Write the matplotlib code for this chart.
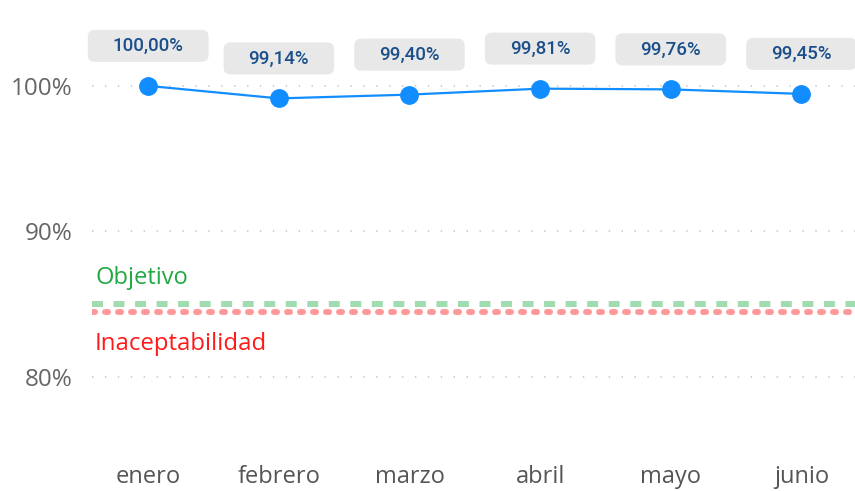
import matplotlib.pyplot as plt
from matplotlib.patches import FancyBboxPatch
from matplotlib.transforms import IdentityTransform
import numpy as np

months = ['enero', 'febrero', 'marzo', 'abril', 'mayo', 'junio']
values = [100.00, 99.14, 99.40, 99.81, 99.76, 99.45]
objetivo = 85.0
inaceptable = 84.5
y_ticks = [80, 90, 100]

plt.rcParams['lines.scale_dashes'] = False

fig = plt.figure(figsize=(8.55, 4.91), dpi=100)
ax = fig.add_axes([92 / 855, 41.2 / 491, (855 - 92) / 855, 449.8 / 491])

x = np.arange(len(months))
ax.set_xlim(-0.43, 5.41)
ax.set_ylim(75, 105.9)

# gridlines (dotted)
for t in y_ticks:
    ax.axhline(t, color='#c8c8c8', lw=1.2, ls=(0, (1.0, 8.3)), zorder=1)

# reference lines
ax.axhline(objetivo, color='#a0dcb0', lw=4.3, ls=(0, (7.9, 7.6)),
           dash_capstyle='butt', zorder=2)
ax.axhline(inaceptable, color='#ff9999', lw=4.3, ls=(0, (2.2, 7.16)),
           dash_capstyle='round', zorder=2)
ax.text(0.004, 86.8, 'Objetivo', transform=ax.get_yaxis_transform(),
        color='#22a843', fontsize=17, family='Open Sans', va='center', ha='left')
ax.text(0.004, 82.3, 'Inaceptabilidad', transform=ax.get_yaxis_transform(),
        color='#ff1a1a', fontsize=17.3, family='Open Sans', va='center', ha='left')

# series
ax.plot(x, values, color='#118dff', lw=1.6, marker='o', markersize=12.5, zorder=4)

labels = []
for xi, v in zip(x, values):
    label = '{:.2f}%'.format(v).replace('.', ',')
    t = ax.annotate(label, (xi, v), xytext=(0, 28.8), textcoords='offset points',
                    ha='center', va='center', fontsize=13.5, family='Roboto',
                    fontweight='medium', color='#1b4f8a', zorder=6)
    labels.append(t)

ax.set_xticks(x)
ax.set_xticklabels(months, fontsize=17, color='#555555', family='Open Sans')
ax.set_yticks(y_ticks)
ax.set_yticklabels(['{}%'.format(t) for t in y_ticks], fontsize=17.5,
                   color='#666666', family='Open Sans')
ax.tick_params(axis='both', length=0)
ax.tick_params(axis='x', pad=11)
ax.tick_params(axis='y', pad=14)
for s in ax.spines.values():
    s.set_visible(False)

# grey rounded boxes behind the data labels
fig.canvas.draw()
for t in labels:
    bb = t.get_window_extent()
    cx = (bb.x0 + bb.x1) / 2
    cy = (bb.y0 + bb.y1) / 2
    w = bb.width + 50
    h = 32
    box = FancyBboxPatch((cx - w / 2, cy - h / 2), w, h,
                         boxstyle='round,pad=0,rounding_size=7',
                         facecolor='#e8e8e8', edgecolor='none',
                         transform=IdentityTransform(), zorder=5, clip_on=False)
    ax.add_patch(box)

fig.savefig('out.png', dpi=100)
